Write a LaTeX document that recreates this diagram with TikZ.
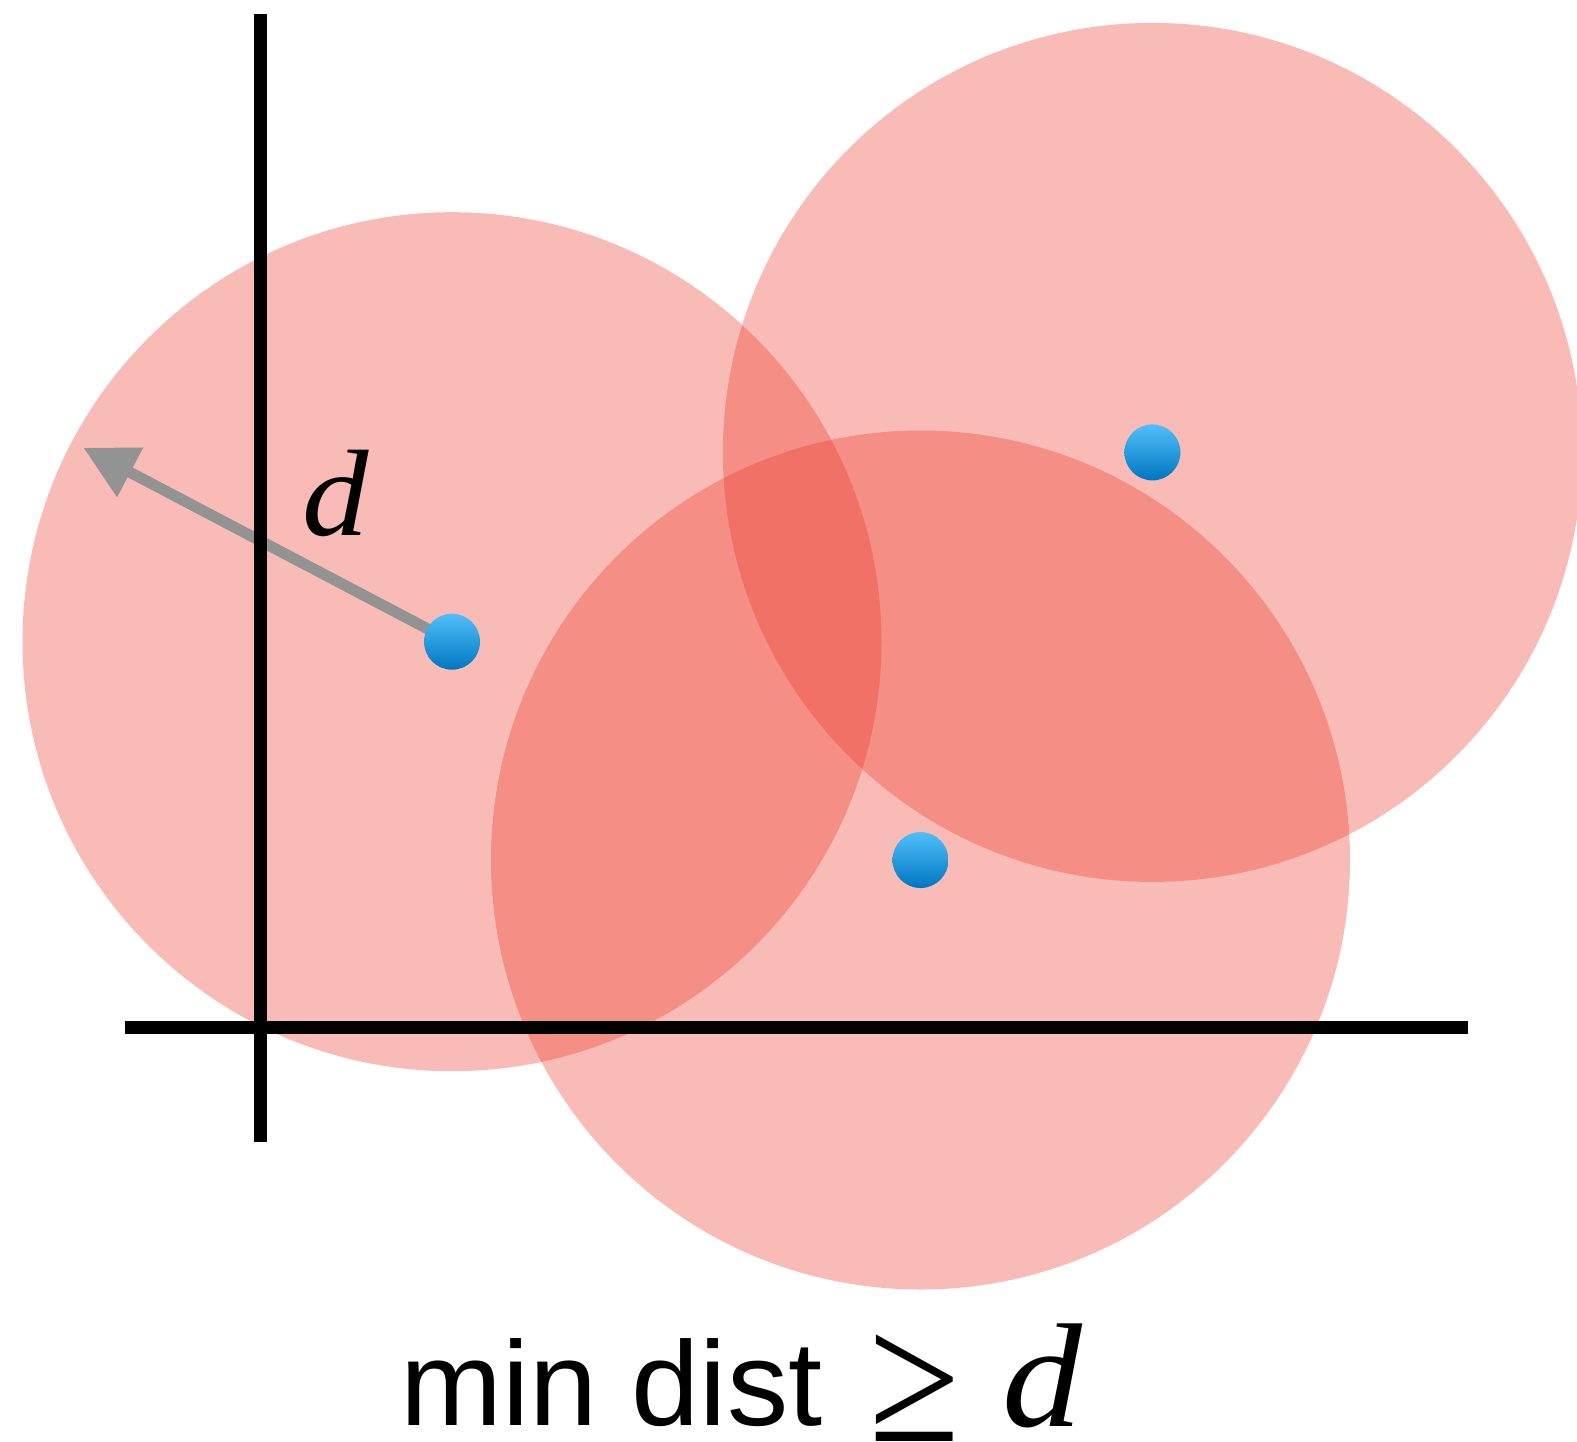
\documentclass[tikz,border=0pt]{standalone}
\usepackage{fontspec}
\setmainfont{Liberation Serif}
\newfontfamily\helv{Liberation Sans}
\usetikzlibrary{arrows.meta}
\definecolor{disk}{RGB}{237,56,40}
\definecolor{dottop}{RGB}{80,192,250}
\definecolor{dotbot}{RGB}{0,118,192}
\definecolor{arrgray}{RGB}{147,147,147}
\tikzset{
  zone/.style={fill=disk, fill opacity=0.34},
  axisline/.style={line width=13pt, black},
  pt/.style={circle, minimum size=56pt, inner sep=0pt, top color=dottop, bottom color=dotbot, shading=axis},
  arr/.style={line width=11pt, arrgray, -{Triangle[length=53pt,width=53pt]}},
}
\begin{document}
\begin{tikzpicture}[x=1pt,y=-1pt]
\useasboundingbox (0,0) rectangle (1577,1441);
\coordinate (c1) at (452,641.7);
\coordinate (c2) at (1152.4,452.4);
\coordinate (c3) at (920.5,860);
\coordinate (tip) at (83.3,447.7);
\coordinate (vt) at (260.5,14);
\coordinate (vb) at (260.5,1141.5);
\coordinate (hl) at (124.7,1027.9);
\coordinate (hr) at (1468.4,1027.9);
% disks
\fill[zone] (c1) circle (429.5);
\fill[zone] (c2) circle (429.5);
\fill[zone] (c3) circle (429.5);
% arrow
\draw[arr] (c1) -- (tip);
% axes
\draw[axisline] (vt) -- (vb);
\draw[axisline] (hl) -- (hr);
% points
\node[pt] (p1) at (c1) {};
\node[pt] (p2) at (c2) {};
\node[pt] (p3) at (c3) {};
% labels
\node[anchor=base west, inner sep=0pt, font=\fontsize{123}{140}\selectfont\itshape] (dlab) at (302,535) {\scalebox{1.08}[1]{d}};
\node[anchor=base west, inner sep=0pt, font=\fontsize{120}{140}\selectfont\helv] (txt) at (400.5,1425) {\scalebox{1.02}[1]{min dist}};
\node[anchor=center, inner sep=0pt, font=\fontsize{150}{160}\selectfont] (geq) at (915,1388.5) {\scalebox{1.1}[1.24]{≥}};
\node[anchor=base west, inner sep=0pt, font=\fontsize{148}{160}\selectfont\itshape] (dlab2) at (1002,1426) {\scalebox{1.08}[1]{d}};
\end{tikzpicture}
\end{document}
